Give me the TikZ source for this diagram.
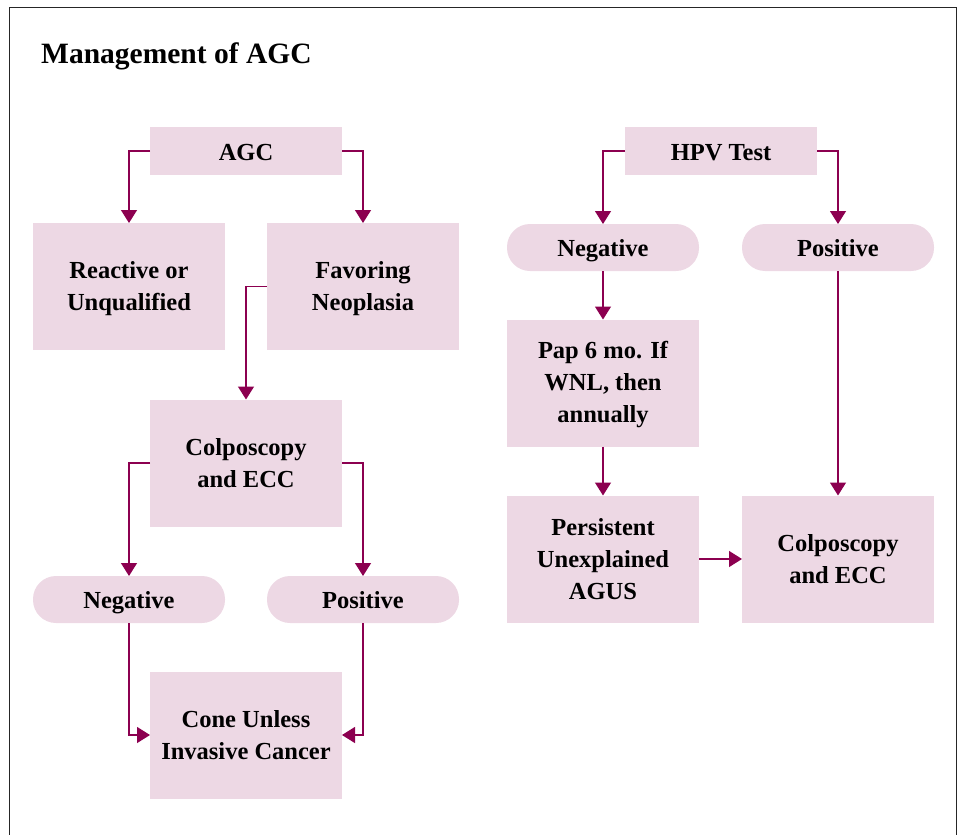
\documentclass[tikz,border=0pt]{standalone}
\usepackage{fontspec}
\setmainfont{Liberation Serif}
\usetikzlibrary{arrows.meta}
\definecolor{boxfill}{RGB}{237,216,228}
\definecolor{linec}{RGB}{140,0,80}
\begin{document}
\begin{tikzpicture}[x=1pt,y=-1pt,
  box/.style={rectangle,fill=boxfill,draw=none,minimum width=192pt,inner sep=0pt,outer sep=0pt,align=center,
    font=\fontsize{24.5}{32}\selectfont\bfseries},
  tallbox/.style={box,minimum height=127pt},
  shortbox/.style={box,minimum height=48pt,text height=18pt,text depth=0pt},
  pill/.style={box,minimum height=47pt,rounded corners=23pt,text height=18pt,text depth=0pt},
  arr/.style={draw=linec,line width=1.3pt,-{Triangle[length=13pt,width=16pt]}}]
\useasboundingbox (0,0) rectangle (959,835);
\draw[line width=1.2pt,black!85] (9.5,845) -- (9.5,7.5) -- (956.5,7.5) -- (956.5,845);
\node[anchor=base west,font=\fontsize{29.5}{34}\selectfont\bfseries,inner sep=0pt] (title) at (41,63) {Management of AGC};
% left tree
\node[shortbox] (agc) at (246,151) {AGC};
\node[tallbox] (react) at (129,286.5) {\rule{0pt}{22pt}Reactive or\\Unqualified};
\node[tallbox] (favor) at (363,286.5) {\rule{0pt}{22pt}Favoring\\Neoplasia};
\node[tallbox] (colpL) at (246,463) {Colposcopy\\and ECC};
\node[pill] (negL) at (129,599.5) {Negative};
\node[pill] (posL) at (363,599.5) {Positive};
\node[tallbox] (cone) at (246,735) {Cone Unless\\Invasive Cancer};
% right tree
\node[shortbox] (hpv) at (721,151) {HPV Test};
\node[pill] (negR) at (603,247.5) {Negative};
\node[pill] (posR) at (838,247.5) {Positive};
\node[tallbox] (pap) at (603,383) {\rule{0pt}{20pt}Pap 6 mo. If\\WNL, then\\annually};
\node[tallbox] (pers) at (603,559) {Persistent\\Unexplained\\AGUS};
\node[tallbox] (colpR) at (838,559) {Colposcopy\\and ECC};
% connectors
\draw[arr] (agc.west) -| (react.north);
\draw[arr] (agc.east) -| (favor.north);
\draw[arr] (favor.west) -| (colpL.north);
\draw[arr] (colpL.west) -| (negL.north);
\draw[arr] (colpL.east) -| (posL.north);
\draw[arr] (negL.south) |- (cone.west);
\draw[arr] (posL.south) |- (cone.east);
\draw[arr] (hpv.west) -| (negR.north);
\draw[arr] (hpv.east) -| (posR.north);
\draw[arr] (negR.south) -- (pap.north);
\draw[arr] (pap.south) -- (pers.north);
\draw[arr] (posR.south) -- (colpR.north);
\draw[arr] (pers.east) -- (colpR.west);
\end{tikzpicture}
\end{document}
